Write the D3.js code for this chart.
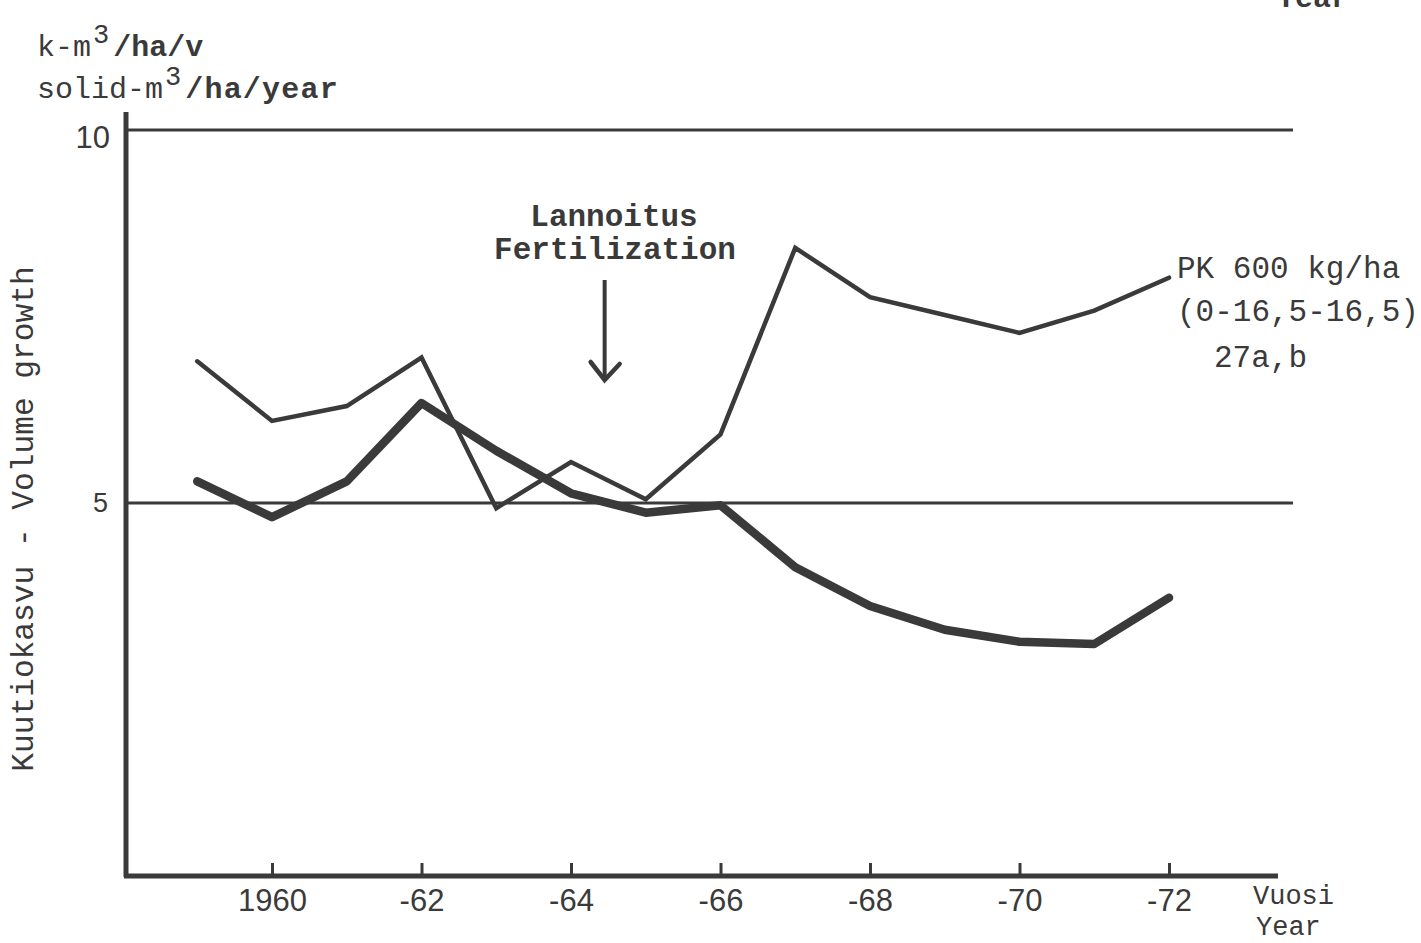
<!DOCTYPE html>
<html>
<head>
<meta charset="utf-8">
<script src="https://cdn.jsdelivr.net/npm/d3@7"></script>
<style>
  html, body { margin: 0; padding: 0; background: #fff; }
  svg { display: block; }
  .mono { font-family: "Liberation Mono", "DejaVu Sans Mono", monospace; fill: #3a3a3a; }
  .sans { font-family: "Liberation Sans", Arial, sans-serif; fill: #3a3a3a; }
</style>
</head>
<body>
<svg id="chart" width="1421" height="943"></svg>
<script>
// ---- data ----
const years = [1959, 1960, 1961, 1962, 1963, 1964, 1965, 1966, 1967, 1968, 1969, 1970, 1971, 1972];
const fertilized = [6.9, 6.1, 6.3, 6.95, 4.93, 5.55, 5.05, 5.92, 8.42, 7.76, 7.52, 7.28, 7.58, 8.02];
const control = [5.29, 4.81, 5.29, 6.34, 5.7, 5.13, 4.87, 4.97, 4.14, 3.62, 3.3, 3.14, 3.11, 3.73];
const xTickValues = [1960, 1962, 1964, 1966, 1968, 1970, 1972];
const xTickLabels = ["1960", "-62", "-64", "-66", "-68", "-70", "-72"];
const yTickValues = [5, 10];
const yTickLabels = ["5", "10"];
const gridValues = [5, 10];

// ---- scales ----
const svg = d3.select("#chart");
const x = d3.scaleLinear().domain([1960, 1972]).range([272, 1169]);
const y = d3.scaleLinear().domain([0, 10]).range([876, 130]);
const ink = "#3a3a3a";

// gridlines
svg.selectAll("line.grid").data(gridValues).enter().append("line")
  .attr("class", "grid")
  .attr("x1", 126).attr("x2", 1293)
  .attr("y1", d => y(d)).attr("y2", d => y(d))
  .attr("stroke", ink).attr("stroke-width", 3);

// y axis line
svg.append("line")
  .attr("x1", 126).attr("x2", 126)
  .attr("y1", 112).attr("y2", y(0) + 1)
  .attr("stroke", ink).attr("stroke-width", 5);

// x axis line
svg.append("line")
  .attr("x1", 124).attr("x2", 1278)
  .attr("y1", y(0)).attr("y2", y(0))
  .attr("stroke", ink).attr("stroke-width", 5);

// x axis ticks/labels
const xAxis = d3.axisBottom(x)
  .tickValues(xTickValues)
  .tickFormat((d, i) => xTickLabels[i])
  .tickSizeInner(-13).tickSizeOuter(0).tickPadding(13);
const gx = svg.append("g").attr("transform", `translate(0,${y(0)})`).call(xAxis);
gx.select(".domain").remove();
gx.selectAll(".tick line").attr("stroke", ink).attr("stroke-width", 3);
gx.selectAll(".tick text").attr("class", "sans").attr("font-size", 31).attr("fill", ink);

// y axis labels
const yAxis = d3.axisLeft(y)
  .tickValues(yTickValues)
  .tickFormat((d, i) => yTickLabels[i])
  .tickSize(0).tickPadding(16);
const gy = svg.append("g").attr("transform", "translate(126,0)").call(yAxis);
gy.select(".domain").remove();
gy.selectAll(".tick text").attr("class", "sans").attr("font-size", 31).attr("fill", ink);
gy.selectAll(".tick").filter(d => d === 10).select("text").attr("dy", "0.55em");
gy.selectAll(".tick").filter(d => d === 5).select("text").attr("font-size", 27).attr("dx", "-2");

// series lines
const line = d3.line().x((d, i) => x(years[i])).y(d => y(d));
svg.append("path").datum(fertilized)
  .attr("d", line).attr("fill", "none")
  .attr("stroke", ink).attr("stroke-width", 4.5)
  .attr("stroke-linejoin", "miter").attr("stroke-linecap", "round");
svg.append("path").datum(control)
  .attr("d", line).attr("fill", "none")
  .attr("stroke", ink).attr("stroke-width", 8.5)
  .attr("stroke-linejoin", "round").attr("stroke-linecap", "round");

// y unit texts
const unit1 = svg.append("text").attr("class", "mono").attr("x", 37).attr("y", 56).attr("font-size", 30);
unit1.append("tspan").text("k-m");
unit1.append("tspan").attr("dy", -13).attr("dx", 2).attr("font-size", 27).text("3");
unit1.append("tspan").attr("dy", 13).attr("dx", 4).attr("font-weight", "bold").text("/ha/v");

const unit2 = svg.append("text").attr("class", "mono").attr("x", 37).attr("y", 98).attr("font-size", 30);
unit2.append("tspan").text("solid-m");
unit2.append("tspan").attr("dy", -13).attr("dx", 2).attr("font-size", 27).text("3");
unit2.append("tspan").attr("dy", 13).attr("dx", 4).attr("font-weight", "bold")
  .attr("letter-spacing", 1.2).text("/ha/year");

// y axis title (rotated)
svg.append("text").attr("class", "mono")
  .attr("transform", "translate(33,519) rotate(-90)")
  .attr("text-anchor", "middle").attr("font-size", 31.2)
  .text("Kuutiokasvu - Volume growth");

// fertilization annotation
svg.append("text").attr("class", "mono").attr("x", 614).attr("y", 226)
  .attr("text-anchor", "middle").attr("font-size", 31).attr("font-weight", "bold")
  .text("Lannoitus");
svg.append("text").attr("class", "mono").attr("x", 615).attr("y", 259)
  .attr("text-anchor", "middle").attr("font-size", 31).attr("font-weight", "bold")
  .text("Fertilization");

const ax = x(1964.45);
svg.append("line").attr("x1", ax).attr("x2", ax).attr("y1", 280).attr("y2", 379)
  .attr("stroke", ink).attr("stroke-width", 4);
svg.append("path")
  .attr("d", `M${ax - 14},362 L${ax},380 L${ax + 15},364`)
  .attr("fill", "none").attr("stroke", ink).attr("stroke-width", 4.5)
  .attr("stroke-linecap", "round").attr("stroke-linejoin", "miter");

// series label
svg.append("text").attr("class", "mono").attr("x", 1177).attr("y", 278).attr("font-size", 31).text("PK 600 kg/ha");
svg.append("text").attr("class", "mono").attr("x", 1177).attr("y", 321).attr("font-size", 31).text("(0-16,5-16,5)");
svg.append("text").attr("class", "mono").attr("x", 1214).attr("y", 367).attr("font-size", 31).text("27a,b");

// x axis title
svg.append("text").attr("class", "mono").attr("x", 1253).attr("y", 904).attr("font-size", 27).text("Vuosi");
svg.append("text").attr("class", "mono").attr("x", 1256).attr("y", 935).attr("font-size", 27).text("Year");

// cut-off text at very top (from scan)
svg.append("text").attr("class", "mono").attr("x", 1277).attr("y", 7).attr("font-size", 30).attr("font-weight", "bold").text("Year");
</script>
</body>
</html>
